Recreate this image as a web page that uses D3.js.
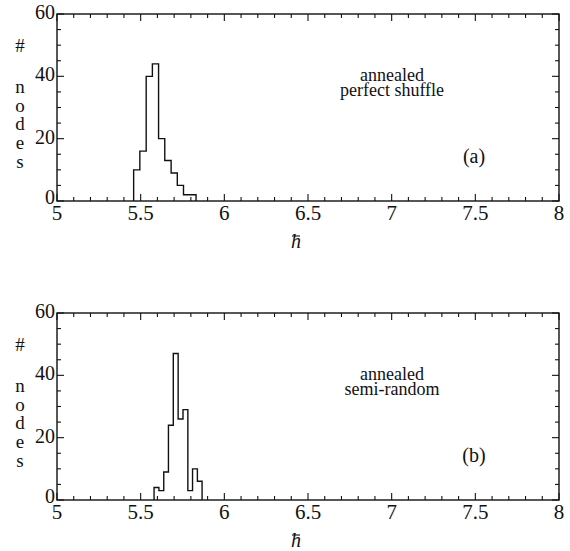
<!DOCTYPE html>
<html>
<head>
<meta charset="utf-8">
<script src="https://cdn.jsdelivr.net/npm/d3@7"></script>
<style>
  body { margin: 0; background: #fff; }
</style>
</head>
<body>
<div id="chart"></div>
<script>
// histogram bin edges and counts
const edgesA = [5.458, 5.495, 5.533, 5.570, 5.607, 5.644, 5.682, 5.719, 5.756, 5.793, 5.831];
const countsA = [10, 16, 40, 44, 20, 13, 9, 5, 2, 2];

const edgesB = [5.580, 5.609, 5.638, 5.666, 5.695, 5.724, 5.753, 5.782, 5.810, 5.839, 5.867];
const countsB = [4, 3, 9, 24, 47, 26, 29, 3, 10, 6];

const xTicks = [5, 5.5, 6, 6.5, 7, 7.5, 8];
const xTickLabels = ["5", "5.5", "6", "6.5", "7", "7.5", "8"];
const yTicks = [0, 20, 40, 60];
const yLetters = ["#", "n", "o", "d", "e", "s"];

const panels = [
  { top: 14, edges: edgesA, counts: countsA, lines: ["annealed", "perfect shuffle"], tag: "(a)" },
  { top: 313, edges: edgesB, counts: countsB, lines: ["annealed", "semi-random"], tag: "(b)" }
];

const W = 570, H = 551;
const left = 57, right = 559, ph = 187;

const svg = d3.select("#chart").append("svg")
    .attr("width", W)
    .attr("height", H)
    .attr("font-family", "Liberation Serif");

const x = d3.scaleLinear().domain([5, 8]).range([left, right]);

panels.forEach(p => {
    const y = d3.scaleLinear().domain([0, 60]).range([p.top + ph, p.top]);
    const g = svg.append("g");

    // frame
    g.append("rect")
        .attr("x", left).attr("y", p.top)
        .attr("width", right - left).attr("height", ph)
        .attr("fill", "none").attr("stroke", "#111").attr("stroke-width", 1.4);

    // inward ticks on all four sides
    d3.range(50, 81).map(v => v / 10).forEach(v => {
        const major = Math.abs(v * 2 - Math.round(v * 2)) < 1e-6;
        const len = major ? 7 : 4;
        g.append("line").attr("x1", x(v)).attr("x2", x(v))
            .attr("y1", y(0)).attr("y2", y(0) - len)
            .attr("stroke", "#111").attr("stroke-width", 1.1);
        g.append("line").attr("x1", x(v)).attr("x2", x(v))
            .attr("y1", y(60)).attr("y2", y(60) + len)
            .attr("stroke", "#111").attr("stroke-width", 1.1);
    });
    d3.range(0, 61, 5).forEach(v => {
        const len = v % 20 === 0 ? 7 : 4;
        g.append("line").attr("x1", left).attr("x2", left + len)
            .attr("y1", y(v)).attr("y2", y(v))
            .attr("stroke", "#111").attr("stroke-width", 1.1);
        g.append("line").attr("x1", right).attr("x2", right - len)
            .attr("y1", y(v)).attr("y2", y(v))
            .attr("stroke", "#111").attr("stroke-width", 1.1);
    });

    // tick labels
    g.selectAll(".xl").data(xTicks).enter().append("text")
        .attr("x", d => x(d))
        .attr("y", y(0) + 19)
        .attr("text-anchor", "middle")
        .attr("font-size", 21)
        .attr("fill", "#111")
        .text((d, i) => xTickLabels[i]);

    g.selectAll(".yl").data(yTicks).enter().append("text")
        .attr("x", left - 2)
        .attr("y", d => y(d) + (d === 0 ? 3 : 5))
        .attr("text-anchor", "end")
        .attr("font-size", 20)
        .attr("fill", "#111")
        .text(d => d);

    // stacked y label
    const letterY = [52, 93, 112, 130, 149, 168];
    yLetters.forEach((c, i) => {
        g.append("text")
            .attr("x", 20)
            .attr("y", p.top - 14 + letterY[i])
            .attr("text-anchor", "middle")
            .attr("font-size", 19)
            .attr("fill", "#111")
            .text(c);
    });

    // x label h-bar
    g.append("text")
        .attr("x", 296)
        .attr("y", p.top + 234)
        .attr("text-anchor", "middle")
        .attr("font-size", 20)
        .attr("font-style", "italic")
        .attr("fill", "#111")
        .text("h");
    g.append("line")
        .attr("x1", 292).attr("x2", 300)
        .attr("y1", p.top + 222).attr("y2", p.top + 222)
        .attr("stroke", "#111").attr("stroke-width", 1.1);

    // histogram outline
    const pts = [[p.edges[0], 0]];
    p.counts.forEach((c, i) => {
        pts.push([p.edges[i], c]);
        pts.push([p.edges[i + 1], c]);
    });
    pts.push([p.edges[p.edges.length - 1], 0]);

    g.append("path")
        .datum(pts)
        .attr("fill", "none")
        .attr("stroke", "#111")
        .attr("stroke-width", 1.4)
        .attr("d", d3.line().x(d => x(d[0])).y(d => y(d[1])));

    // annotation text
    p.lines.forEach((t, i) => {
        g.append("text")
            .attr("x", 392)
            .attr("y", p.top + 67 + i * 15)
            .attr("text-anchor", "middle")
            .attr("font-size", 18)
            .attr("fill", "#111")
            .text(t);
    });
    g.append("text")
        .attr("x", 474)
        .attr("y", p.top + 149)
        .attr("text-anchor", "middle")
        .attr("font-size", 20)
        .attr("fill", "#111")
        .text(p.tag);
});
</script>
</body>
</html>
